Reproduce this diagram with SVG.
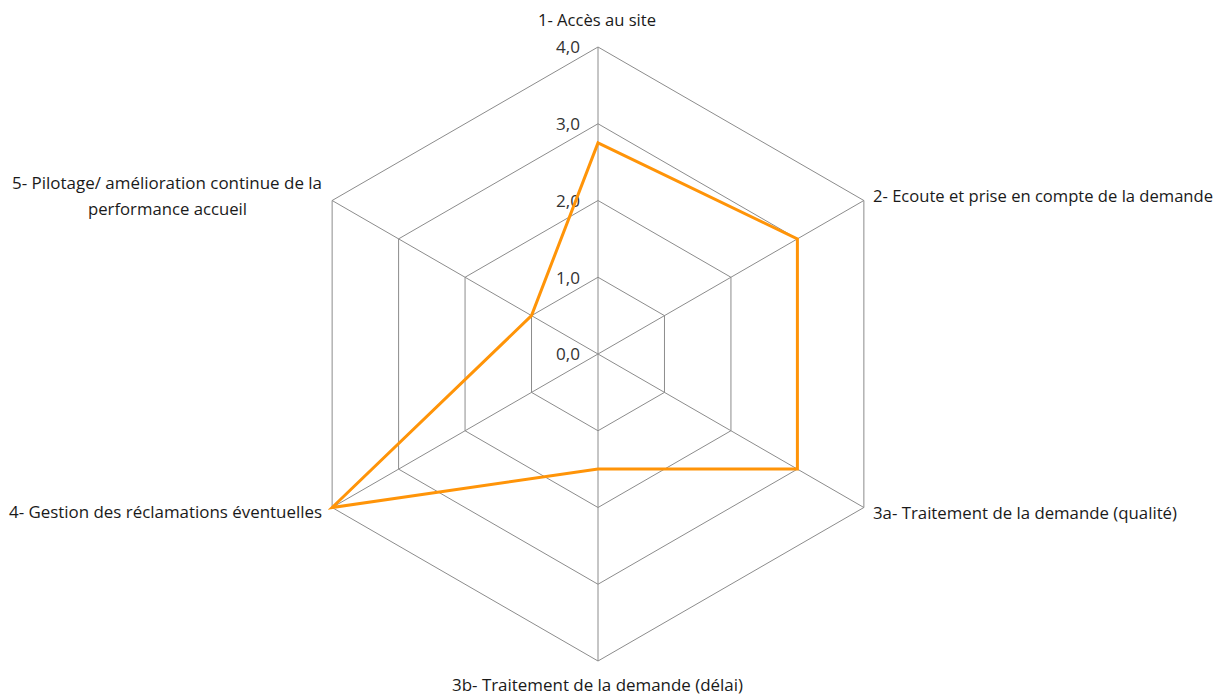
<svg xmlns="http://www.w3.org/2000/svg" width="1218" height="697" viewBox="0 0 1218 697">
  <style>
    .grid { fill: none; stroke: #8c8c8c; stroke-width: 1; }
    .series { fill: none; stroke: #ff9408; stroke-width: 3; stroke-linejoin: miter; }
    .lbl { font-family: "Open Sans", "Liberation Sans", sans-serif; font-size: 16px; fill: #1a1a1a; }
    .tick { font-family: "Open Sans", "Liberation Sans", sans-serif; font-size: 15.5px; fill: #333333; text-anchor: end; }
  </style>
  <rect width="1218" height="697" fill="#ffffff"/>

  <!-- radar grid: concentric hexagons and spokes -->
  <g id="grid">
    <polygon class="grid" points="598,277.25 664.47,315.63 664.47,392.38 598,430.75 531.53,392.38 531.53,315.63"/>
    <polygon class="grid" points="598,200.5 730.94,277.25 730.94,430.75 598,507.5 465.06,430.75 465.06,277.25"/>
    <polygon class="grid" points="598,123.75 797.4,238.88 797.4,469.13 598,584.25 398.6,469.13 398.6,238.88"/>
    <polygon class="grid" points="598,47 863.87,200.5 863.87,507.5 598,661 332.13,507.5 332.13,200.5"/>
    <line class="grid" x1="598" y1="354" x2="598" y2="47"/>
    <line class="grid" x1="598" y1="354" x2="863.87" y2="200.5"/>
    <line class="grid" x1="598" y1="354" x2="863.87" y2="507.5"/>
    <line class="grid" x1="598" y1="354" x2="598" y2="661"/>
    <line class="grid" x1="598" y1="354" x2="332.13" y2="507.5"/>
    <line class="grid" x1="598" y1="354" x2="332.13" y2="200.5"/>
  </g>

  <!-- scale values -->
  <g id="scale">
    <text class="tick" x="580" y="53" textLength="24" lengthAdjust="spacingAndGlyphs">4,0</text>
    <text class="tick" x="580" y="130" textLength="24" lengthAdjust="spacingAndGlyphs">3,0</text>
    <text class="tick" x="580" y="207" textLength="24" lengthAdjust="spacingAndGlyphs">2,0</text>
    <text class="tick" x="580" y="284" textLength="24" lengthAdjust="spacingAndGlyphs">1,0</text>
    <text class="tick" x="580" y="360" textLength="24" lengthAdjust="spacingAndGlyphs">0,0</text>
  </g>

  <!-- data series -->
  <g id="connectors">
    <polygon class="series" points="598,142.9 797.4,238.9 797.4,469.1 598,469.1 332.13,507.5 531.5,315.6"/>
  </g>

  <!-- axis labels -->
  <g id="axis-1"><text class="lbl" x="538" y="26" textLength="118" lengthAdjust="spacingAndGlyphs">1- Accès au site</text></g>
  <g id="axis-2"><text class="lbl" x="873" y="202" textLength="340" lengthAdjust="spacingAndGlyphs">2- Ecoute et prise en compte de la demande</text></g>
  <g id="axis-3a"><text class="lbl" x="873" y="519" textLength="304" lengthAdjust="spacingAndGlyphs">3a- Traitement de la demande (qualité)</text></g>
  <g id="axis-3b"><text class="lbl" x="452" y="691" textLength="291" lengthAdjust="spacingAndGlyphs">3b- Traitement de la demande (délai)</text></g>
  <g id="axis-4"><text class="lbl" x="9" y="518" textLength="313" lengthAdjust="spacingAndGlyphs">4- Gestion des réclamations éventuelles</text></g>
  <g id="axis-5">
    <text class="lbl" x="12" y="189" textLength="310" lengthAdjust="spacingAndGlyphs">5- Pilotage/ amélioration continue de la</text>
    <text class="lbl" x="88" y="215" textLength="159" lengthAdjust="spacingAndGlyphs">performance accueil</text>
  </g>
</svg>
